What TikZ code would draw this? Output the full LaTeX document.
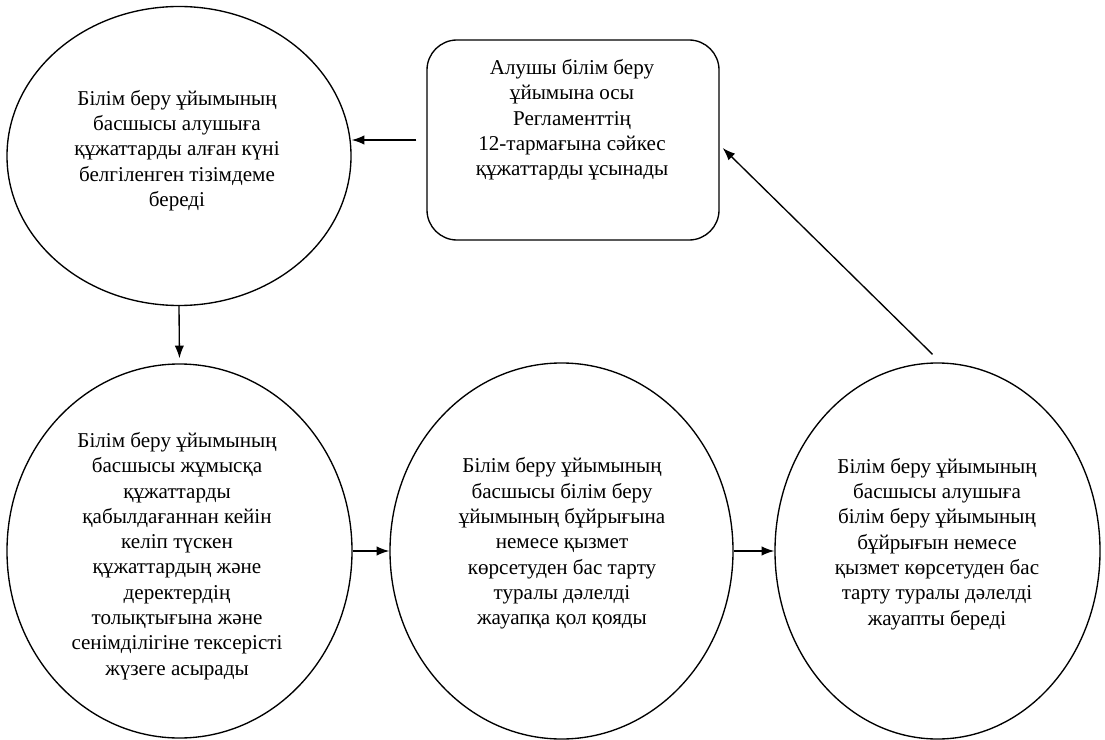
\documentclass[tikz,border=0pt]{standalone}
\usepackage{fontspec}
\setmainfont{Liberation Serif}
\usetikzlibrary{arrows.meta,shapes.geometric,calc}

\begin{document}
\begin{tikzpicture}[x=0.03cm, y=-0.03cm, >={Latex[length=3.8mm,width=2.8mm]}, line width=1.15pt,
    stepellipse/.style={draw, ellipse, inner sep=0pt},
    stepbox/.style={draw, rectangle, rounded corners=0.9cm, inner sep=0pt,
                    minimum width=8.76cm, minimum height=6cm},
    steptext/.style={align=center, inner sep=0pt, font=\fontsize{18}{21.6}\selectfont}]
    \useasboundingbox (0,0) rectangle (1105,740);

    % 框与椭圆
    \node[stepbox] (box) at (573,140) {};
    \node[stepellipse, minimum width=10.32cm, minimum height=8.97cm] (e1) at (179,156) {};
    \node[stepellipse, minimum width=10.35cm, minimum height=11.22cm] (e3) at (179.5,551) {};
    \node[stepellipse, minimum width=10.29cm, minimum height=11.28cm] (e4) at (561.5,551) {};
    \node[stepellipse, minimum width=9.75cm, minimum height=11.28cm] (e5) at (937.5,551) {};

    % 文字
    \node[steptext] (tbox) at (572,120) {Алушы білім беру\\ ұйымына осы\\ Регламенттің\\ 12-тармағына сәйкес\\ құжаттарды ұсынады};
    \node[steptext] (t1) at (177,150.5) {Білім беру ұйымының\\ басшысы алушыға\\ құжаттарды алған күні\\ белгіленген тізімдеме\\ береді};
    \node[steptext] (t3) at (177,556) {Білім беру ұйымының\\ басшысы жұмысқа\\ құжаттарды\\ қабылдағаннан кейін\\ келіп түскен\\ құжаттардың және\\ деректердің\\ толықтығына және\\ сенімділігіне тексерісті\\ жүзеге асырады};
    \node[steptext] (t4) at (562,543.5) {Білім беру ұйымының\\ басшысы білім беру\\ ұйымының бұйрығына\\ немесе қызмет\\ көрсетуден бас тарту\\ туралы дәлелді\\ жауапқа қол қояды};
    \node[steptext] (t5) at (937,544) {Білім беру ұйымының\\ басшысы алушыға\\ білім беру ұйымының\\ бұйрығын немесе\\ қызмет көрсетуден бас\\ тарту туралы дәлелді\\ жауапты береді};

    % 箭头
    \draw[->, shorten <=10*0.03cm] (box.west) -- (box.west -| e1.east);
    \draw[->, shorten >=5*0.03cm] (e1.south) -- (e3.north);
    \draw[->] (e3.east) -- (e4.west);
    \draw[->] (e4.east) -- (e5.west);
    \draw[->] ($(e5.north)+(-5,-8)$) -- ($(box.east)+(3,8)$);
\end{tikzpicture}
\end{document}
